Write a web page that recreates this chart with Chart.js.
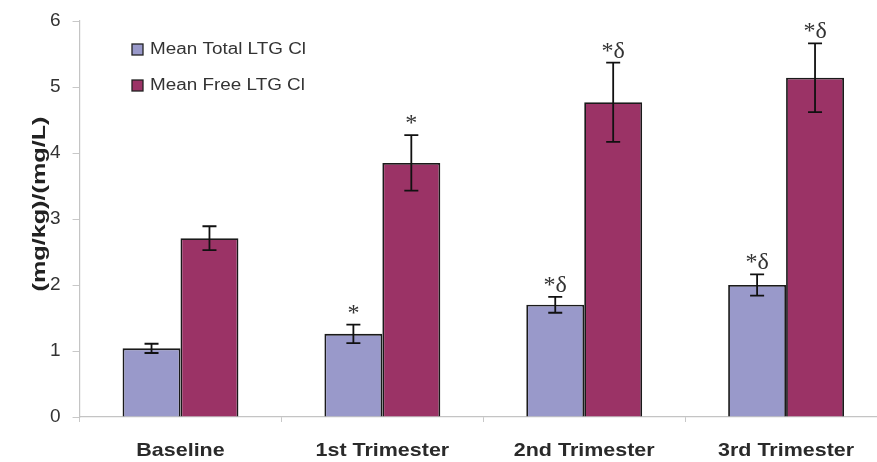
<!DOCTYPE html>
<html>
<head>
<meta charset="utf-8">
<script src="https://cdn.jsdelivr.net/npm/chart.js@4/dist/chart.umd.min.js"></script>
<style>
  html, body { margin: 0; padding: 0; background: #fff; overflow: hidden; }
  #wrap { width: 887px; height: 462px; }
</style>
</head>
<body>
<div id="wrap"><canvas id="c" width="887" height="462"></canvas></div>
<script>
// LTG clearance by pregnancy stage
const categories = ['Baseline', '1st Trimester', '2nd Trimester', '3rd Trimester'];
const totalCl = [1.04, 1.26, 1.70, 2.00];
const totalErr = [0.07, 0.14, 0.12, 0.16];
const totalMarks = ['', '*', '*δ', '*δ'];
const freeCl = [2.71, 3.85, 4.77, 5.14];
const freeErr = [0.18, 0.42, 0.60, 0.52];
const freeMarks = ['', '*', '*δ', '*δ'];
const yTicks = [0, 1, 2, 3, 4, 5, 6];
const yTitle = '(mg/kg)/(mg/L)';

const seriesErr = [totalErr, freeErr];
const seriesMarks = [totalMarks, freeMarks];
const SANS = '"Liberation Sans", Arial, sans-serif';

// the original text is a bit stretched along its direction
function stretchText(ctx, text, x, y, sx, rot) {
  ctx.save();
  ctx.translate(x, y);
  if (rot) ctx.rotate(rot);
  ctx.scale(sx, 1);
  ctx.fillText(text, 0, 0);
  ctx.restore();
}

// error bars + significance marks
const errorBars = {
  id: 'errorBars',
  afterDatasetsDraw(chart) {
    const ctx = chart.ctx;
    const y = chart.scales.y;
    chart.data.datasets.forEach((ds, di) => {
      const meta = chart.getDatasetMeta(di);
      meta.data.forEach((bar, i) => {
        const v = ds.data[i];
        const e = seriesErr[di][i];
        const top = y.getPixelForValue(v + e);
        const bot = y.getPixelForValue(v - e);
        const x = bar.x;
        ctx.save();
        ctx.strokeStyle = '#111';
        ctx.lineWidth = 1.8;
        ctx.beginPath();
        ctx.moveTo(x, top); ctx.lineTo(x, bot);
        ctx.moveTo(x - 7, top); ctx.lineTo(x + 7, top);
        ctx.moveTo(x - 7, bot); ctx.lineTo(x + 7, bot);
        ctx.stroke();
        const mark = seriesMarks[di][i];
        if (mark) {
          ctx.fillStyle = '#333';
          ctx.font = '24px "Liberation Serif", "DejaVu Serif", serif';
          ctx.textAlign = 'center';
          ctx.textBaseline = 'alphabetic';
          ctx.fillText(mark, x, top - 5);
        }
        ctx.restore();
      });
    });
  }
};

// legend, category labels and axis title
const textLayer = {
  id: 'textLayer',
  afterDraw(chart) {
    const ctx = chart.ctx;
    const xs = chart.scales.x;
    ctx.save();
    chart.data.datasets.forEach((ds, i) => {
      const ly = 49 + i * 36;
      ctx.fillStyle = ds.backgroundColor;
      ctx.fillRect(132, ly - 5, 11, 11);
      ctx.strokeStyle = '#222';
      ctx.lineWidth = 1.3;
      ctx.strokeRect(132, ly - 5, 11, 11);
      ctx.fillStyle = '#333';
      ctx.font = '16px ' + SANS;
      ctx.textAlign = 'left';
      ctx.textBaseline = 'middle';
      stretchText(ctx, ds.label, 150, ly + 1, 1.18, 0);
    });

    ctx.fillStyle = '#2a2a2a';
    ctx.font = 'bold 19px ' + SANS;
    ctx.textAlign = 'center';
    ctx.textBaseline = 'alphabetic';
    categories.forEach((c, i) => {
      stretchText(ctx, c, xs.getPixelForTick(i), 456, 1.13, 0);
    });

    ctx.fillStyle = '#222';
    ctx.font = 'bold 18px ' + SANS;
    ctx.textBaseline = 'middle';
    stretchText(ctx, yTitle, 40, 204, 1.4, -Math.PI / 2);
    ctx.restore();
  }
};

new Chart(document.getElementById('c'), {
  type: 'bar',
  data: {
    labels: categories,
    datasets: [
      {
        label: 'Mean Total LTG Cl',
        data: totalCl,
        backgroundColor: '#9999ca',
        borderColor: '#1a1a1a',
        borderWidth: 1.8,
        categoryPercentage: 0.574,
        barPercentage: 1.0
      },
      {
        label: 'Mean Free LTG Cl',
        data: freeCl,
        backgroundColor: '#9b3366',
        borderColor: '#1a1a1a',
        borderWidth: 1.8,
        categoryPercentage: 0.574,
        barPercentage: 1.0
      }
    ]
  },
  options: {
    responsive: false,
    animation: false,
    layout: { padding: { top: 8, right: 0, bottom: 40, left: 38 } },
    plugins: {
      legend: { display: false },
      tooltip: { enabled: false }
    },
    scales: {
      x: {
        grid: { display: true, drawOnChartArea: false, offset: true, tickLength: 5, color: '#c8c8c8' },
        border: { display: true, color: '#c4c4c4', width: 1.2 },
        ticks: { display: false }
      },
      y: {
        min: 0,
        max: 6,
        afterBuildTicks: axis => { axis.ticks = yTicks.map(v => ({ value: v })); },
        grid: { display: true, drawOnChartArea: false, tickLength: 7, color: '#c8c8c8' },
        border: { display: true, color: '#c4c4c4', width: 1.2 },
        ticks: { color: '#333', padding: 12, font: { size: 19, lineHeight: 0.95, family: SANS } },
        title: { display: false }
      }
    }
  },
  plugins: [errorBars, textLayer]
});
</script>
</body>
</html>
